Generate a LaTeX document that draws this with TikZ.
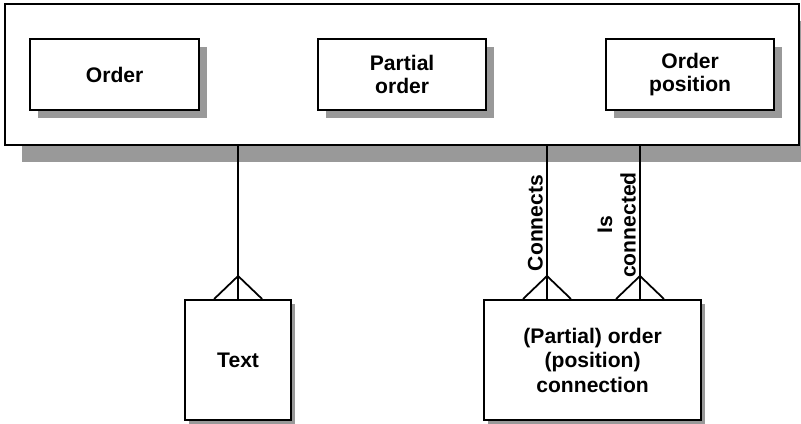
\documentclass[tikz,border=0pt]{standalone}
\usepackage{fontspec}
\setmainfont{Liberation Sans}
\usetikzlibrary{positioning,shadows}
\definecolor{Ink}{HTML}{000000}
\definecolor{Shade}{HTML}{999999}
\tikzset{
  entity/.style={draw=Ink,line width=1.9pt,fill=white,inner sep=0pt,align=center,
    font=\fontsize{18}{19.5}\selectfont\bfseries,anchor=north west},
  frameShadow/.style={general shadow={fill=Shade,shadow xshift=14.5pt,shadow yshift=-14.5pt}},
  boxShadow/.style={general shadow={fill=Shade,shadow xshift=6.8pt,shadow yshift=-6.8pt}},
  smallShadow/.style={general shadow={fill=Shade,shadow xshift=3pt,shadow yshift=-3pt}},
  link/.style={draw=Ink,line width=1.5pt},
  role/.style={rotate=90,anchor=south,inner sep=0pt,align=center,
    font=\fontsize{18}{20}\selectfont\bfseries}
}
\begin{document}
\begin{tikzpicture}[x=0.03cm,y=-0.03cm]
  \useasboundingbox (0,0) rectangle (801,424);
  % aggregate with its three entities
  \node[entity,frameShadow,minimum width=794*0.03cm,minimum height=141*0.03cm] (frame) at (4,3) {};
  \node[entity,boxShadow,minimum width=169*0.03cm,minimum height=71*0.03cm] (order) at (29,38) {Order};
  \node[entity,boxShadow,minimum width=168*0.03cm,minimum height=71*0.03cm] (partial) at (317,38) {Partial\\order};
  \node[entity,boxShadow,minimum width=168*0.03cm,minimum height=71*0.03cm] (position) at (605,38) {Order\\position};
  % dependent entities
  \node[entity,smallShadow,minimum width=106*0.03cm,minimum height=120*0.03cm] (text) at (184,299) {Text};
  \node[entity,smallShadow,minimum width=217*0.03cm,minimum height=120*0.03cm,
    font=\fontsize{18}{21}\selectfont\bfseries] (conn) at (483,299) {(Partial) order\\(position)\\connection};
  \coordinate (c1) at (547,299);
  \coordinate (c2) at (640,299);
  % relationships with crow's feet
  \foreach \f in {text.north,c1,c2} {
    \draw[link] (\f |- frame.south) -- (\f);
    \draw[link] (\f) ++(-24,0) -- ++(24,-23) -- ++(24,23);
  }
  \node[role] (connects) at (543,223) {Connects};
  \node[role] (isconn) at (636,225) {Is\\connected};
\end{tikzpicture}
\end{document}
